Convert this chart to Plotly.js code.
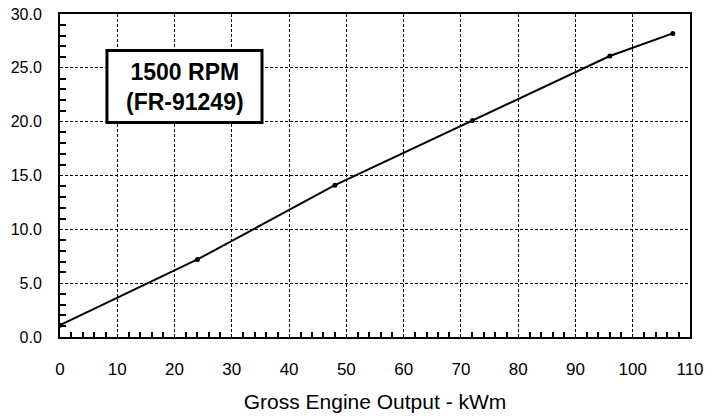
<!DOCTYPE html>
<html>
<head>
<meta charset="utf-8">
<script src="https://cdn.plot.ly/plotly-3.0.1.min.js"></script>
<style>html,body{margin:0;padding:0;background:#fff;}#chart{width:722px;height:416px;}</style>
</head>
<body>
<div id="chart"></div>
<script>
// Data
const outputKWm = [0, 24, 48, 72, 96, 107];
const seriesValues = [1.1, 7.2, 14.1, 20.1, 26.1, 28.2];
const xTitle = "Gross Engine Output - kWm";
const boxLines = ["1500 RPM", "(FR-91249)"];

const FONT = "Liberation Sans, Arial, sans-serif";

const trace = {
  x: outputKWm,
  y: seriesValues,
  type: "scatter",
  mode: "lines+markers",
  line: {color: "#000", width: 2},
  marker: {color: "#000", size: 5},
  showlegend: false,
  hoverinfo: "x+y"
};

const layout = {
  width: 722,
  height: 416,
  margin: {l: 60, r: 32, t: 14, b: 78.5},
  paper_bgcolor: "#fff",
  plot_bgcolor: "#fff",
  font: {family: FONT, color: "#000"},
  xaxis: {
    range: [0, 110],
    dtick: 10,
    tick0: 0,
    showgrid: true,
    gridcolor: "#000",
    gridwidth: 1,
    griddash: "3px,2px",
    zeroline: false,
    showline: true,
    linecolor: "#000",
    linewidth: 2,
    mirror: true,
    ticks: "",
    ticklabelstandoff: 16,
    tickfont: {family: FONT, size: 17, color: "#000"},
    minor: {dtick: 2, ticks: "inside", ticklen: 5, tickcolor: "#000", tickwidth: 2, showgrid: false},
    title: {text: xTitle, font: {family: FONT, size: 21, color: "#000"}, standoff: 16},
    fixedrange: true
  },
  yaxis: {
    range: [0, 30],
    dtick: 5,
    tick0: 0,
    tickformat: ".1f",
    showgrid: true,
    gridcolor: "#000",
    gridwidth: 1,
    griddash: "3px,2px",
    zeroline: false,
    showline: true,
    linecolor: "#000",
    linewidth: 2,
    mirror: true,
    ticks: "",
    ticklabelstandoff: 13,
    tickfont: {family: FONT, size: 16, color: "#000"},
    minor: {dtick: 1, ticks: "inside", ticklen: 6, tickcolor: "#000", tickwidth: 2, showgrid: false},
    fixedrange: true
  },
  shapes: [{
    type: "rect",
    xref: "x", yref: "y",
    x0: 8.2, x1: 35.27, y0: 19.92, y1: 26.6,
    line: {color: "#000", width: 3},
    fillcolor: "#fff",
    layer: "above"
  }],
  annotations: [{
    xref: "x", yref: "y",
    x: 21.74, y: 23.26,
    text: "<b>" + boxLines.join("<br>") + "</b>",
    showarrow: false,
    align: "center",
    font: {family: FONT, size: 23, color: "#000"}
  }]
};

Plotly.newPlot("chart", [trace], layout, {displayModeBar: false, staticPlot: true});
</script>
</body>
</html>
